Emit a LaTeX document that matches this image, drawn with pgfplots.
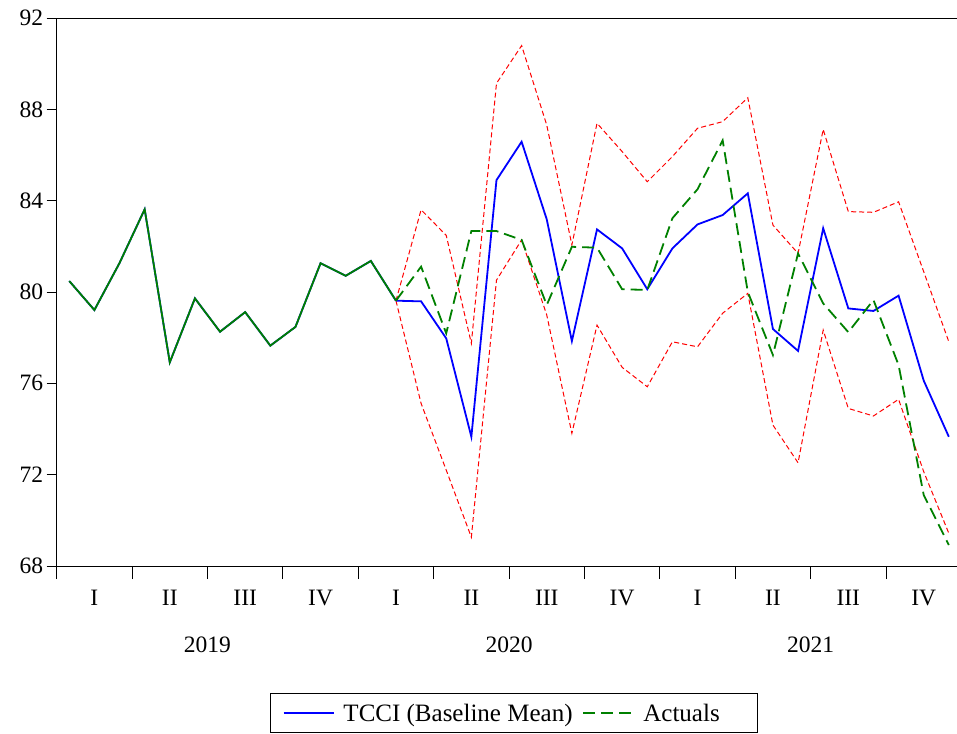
\documentclass[border=0pt]{standalone}
\usepackage{fontspec}
\setmainfont{Liberation Serif}
\usepackage{pgfplots}
\usepackage{pgfplotstable}
\pgfplotsset{compat=1.18}

% Monthly index: 0 = 2019M01 ... 35 = 2021M12
\pgfplotstableread{
m   v
0   80.48
1   79.21
2   81.27
3   83.62
4   76.92
5   79.72
6   78.26
7   79.12
8   77.65
9   78.47
10  81.26
11  80.71
12  81.36
13  79.62
}\history

\pgfplotstableread{
m   v
13  79.62
14  79.59
15  77.97
16  73.66
17  84.90
18  86.58
19  83.18
20  77.85
21  82.74
22  81.91
23  80.12
24  81.91
25  82.96
26  83.37
27  84.32
28  78.38
29  77.42
30  82.79
31  79.28
32  79.17
33  79.84
34  76.12
35  73.66
}\baseline

\pgfplotstableread{
m   v
13  79.62
14  81.11
15  78.19
16  82.67
17  82.67
18  82.28
19  79.43
20  81.98
21  81.94
22  80.12
23  80.09
24  83.23
25  84.50
26  86.64
27  80.00
28  77.24
29  81.69
30  79.50
31  78.24
32  79.65
33  76.80
34  71.11
35  68.92
}\actuals

\pgfplotstableread{
m   up     lo
13  79.62  79.62
14  83.60  75.12
15  82.48  72.20
16  77.75  69.26
17  89.14  80.52
18  90.79  82.28
19  87.31  78.99
20  82.06  73.81
21  87.39  78.55
22  86.15  76.70
23  84.83  75.85
24  85.93  77.82
25  87.17  77.60
26  87.46  79.07
27  88.51  79.94
28  82.93  74.17
29  81.69  72.52
30  87.12  78.33
31  83.52  74.90
32  83.49  74.57
33  83.95  75.30
34  80.89  72.13
35  77.82  69.43
}\bands

\definecolor{tcciblue}{RGB}{0,0,255}
\definecolor{actgreen}{RGB}{0,128,0}
\definecolor{bandred}{RGB}{255,0,0}

\begin{document}
\begin{tikzpicture}
\begin{axis}[
  at={(56.7pt,167pt)}, anchor=south west,
  scale only axis, width=904.7pt, height=548pt,
  xmin=-0.5, xmax=35.5, ymin=68, ymax=92,
  clip=false,
  ytick={68,72,...,92},
  xtick=\empty,
  minor xtick={-0.5,0.5,...,35.5},
  extra x ticks={-0.5,2.5,...,35.5},
  extra x tick labels={},
  extra x tick style={major tick length=13pt},
  major tick length=10pt, minor tick length=7pt,
  tick align=outside, xtick pos=left, ytick pos=left,
  tick style={black, line width=0.8pt},
  axis line style={black, line width=0.9pt},
  /pgf/number format/assume math mode=true,
  ticklabel style={font=\fontsize{23.5}{28}\selectfont},
  legend style={at={(0.5057,-0.2323)}, anchor=north,
    draw=black, line width=0.8pt,
    legend columns=2,
    font=\fontsize{25}{30}\selectfont,
    inner xsep=12pt, inner ysep=8pt,
    /tikz/every odd column/.append style={column sep=7pt},
    /tikz/every even column/.append style={column sep=8pt}},
  legend image code/.code={\draw[#1] (0pt,0pt) -- (50pt,0pt);},
]
\addplot[bandred, line width=1pt, dash pattern=on 5pt off 3pt, forget plot] table[x=m, y=up] {\bands};
\addplot[bandred, line width=1pt, dash pattern=on 5pt off 3pt, forget plot] table[x=m, y=lo] {\bands};
\addplot[tcciblue, line width=1.8pt, forget plot] table[x=m, y=v] {\history};
\addplot[tcciblue, line width=1.8pt] table[x=m, y=v] {\baseline};
\addlegendentry{TCCI (Baseline Mean)}
\addplot[actgreen, line width=1.8pt, forget plot] table[x=m, y=v] {\history};
\addplot[actgreen, line width=1.8pt, dash pattern=on 12pt off 6pt] table[x=m, y=v] {\actuals};
\addlegendentry{Actuals\hspace*{24pt}}

% quarter and year labels under the time axis
\foreach \q/\lab in {0/I,1/II,2/III,3/IV,4/I,5/II,6/III,7/IV,8/I,9/II,10/III,11/IV}{
  \edef\tmp{\noexpand\node[font=\noexpand\fontsize{23.5}{28}\noexpand\selectfont] at (axis cs:{3*\q+1},68) [yshift=-32pt] {\lab};}
  \tmp
}
\node[font=\fontsize{23.5}{28}\selectfont] at (axis cs:5.5,68) [yshift=-79pt] {2019};
\node[font=\fontsize{23.5}{28}\selectfont] at (axis cs:17.5,68) [yshift=-79pt] {2020};
\node[font=\fontsize{23.5}{28}\selectfont] at (axis cs:29.5,68) [yshift=-79pt] {2021};
\end{axis}
\pgfresetboundingbox
\useasboundingbox (0,0) rectangle (957pt,733pt);
\end{tikzpicture}
\end{document}
